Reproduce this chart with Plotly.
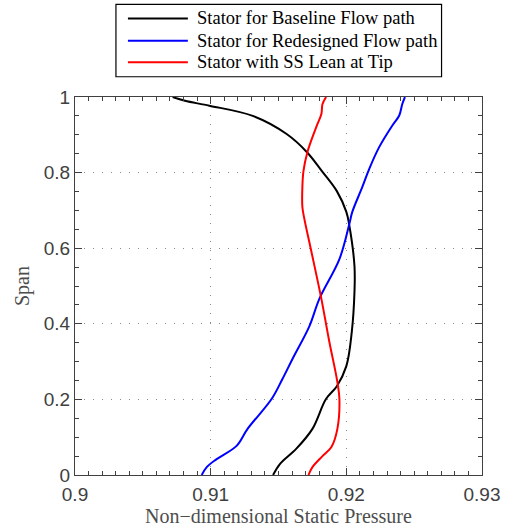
import plotly.graph_objects as go

# Spanwise static pressure distributions at stator exit
baseline_p = [0.9072, 0.9081, 0.9099, 0.9131, 0.9156, 0.9171, 0.9182, 0.9193, 0.9200, 0.9202,
              0.9206, 0.9206, 0.9204, 0.9200, 0.9193, 0.9185, 0.9175, 0.9163, 0.9151, 0.9146]
baseline_span = [1.000, 0.990, 0.977, 0.950, 0.902, 0.854, 0.804, 0.751, 0.696, 0.664,
                 0.553, 0.484, 0.378, 0.288, 0.235, 0.201, 0.122, 0.069, 0.029, 0.000]

redesign_p = [0.92432, 0.92412, 0.92390, 0.92338, 0.92243, 0.92169, 0.92118, 0.92044, 0.92022, 0.91949,
              0.91801, 0.91728, 0.91603, 0.91529, 0.91449, 0.91272, 0.91191, 0.91044, 0.90971, 0.90934]
redesign_span = [1.000, 0.981, 0.951, 0.924, 0.868, 0.810, 0.762, 0.696, 0.664, 0.571,
                 0.466, 0.394, 0.307, 0.254, 0.201, 0.122, 0.077, 0.042, 0.021, 0.000]

lean_p = [0.91851, 0.91824, 0.91816, 0.91779, 0.91713, 0.91684, 0.91676, 0.91676, 0.91691, 0.91743,
          0.91816, 0.91875, 0.91934, 0.91949, 0.91934, 0.91890, 0.91824, 0.91750, 0.91721]
lean_span = [1.000, 0.981, 0.955, 0.921, 0.854, 0.804, 0.762, 0.709, 0.677, 0.590,
             0.466, 0.352, 0.246, 0.201, 0.122, 0.074, 0.050, 0.021, 0.000]

series_names = ["Stator for Baseline Flow path",
                "Stator for Redesigned Flow path",
                "Stator with SS Lean at Tip"]
series_colors = ["#000000", "#0000ff", "#ff0000"]

W, H = 510, 530
M_L, M_R, M_T, M_B = 75, 27.5, 97, 54.5
PW, PH = W - M_L - M_R, H - M_T - M_B


def px_x(px):
    """Horizontal page pixel -> paper coordinate."""
    return (px - M_L) / PW


def px_y(py):
    """Vertical page pixel (from top) -> paper coordinate."""
    return (H - M_B - py) / PH


fig = go.Figure()
for name, color, xs, ys in zip(series_names, series_colors,
                               [baseline_p, redesign_p, lean_p],
                               [baseline_span, redesign_span, lean_span]):
    fig.add_trace(go.Scatter(x=xs, y=ys, mode="lines", name=name, showlegend=False,
                             line=dict(color=color, width=2, shape="spline", smoothing=1.0)))

serif = "Liberation Serif, Times New Roman, serif"
sans = "Liberation Sans, Arial, sans-serif"
ink = "#404040"

axis_common = dict(
    showline=True, linecolor=ink, linewidth=1.3, mirror="allticks",
    tickmode="linear", ticks="inside", ticklen=7, tickcolor=ink, tickwidth=1,
    showgrid=True, gridcolor="#8a8a8a", gridwidth=1, griddash="1px,8px",
    zeroline=False, automargin=False, tickformat="~g",
    tickfont=dict(family=sans, size=19, color=ink),
)

fig.update_xaxes(
    range=[0.9, 0.93], tick0=0.9, dtick=0.01, ticklabelstandoff=2,
    minor=dict(tick0=0.9, dtick=0.001, ticks="inside", ticklen=4, tickcolor=ink, tickwidth=1, showgrid=False),
    title=dict(text="Non\u2212dimensional Static Pressure", standoff=3,
               font=dict(family=serif, size=20, color="#4d4d4d")),
    **axis_common,
)
fig.update_yaxes(
    range=[0, 1], tick0=0, dtick=0.2,
    minor=dict(tick0=0, dtick=0.05, ticks="inside", ticklen=4, tickcolor=ink, tickwidth=1, showgrid=False),
    title=dict(text="Span", standoff=8,
               font=dict(family=serif, size=20, color="#4d4d4d")),
    **axis_common,
)

# Boxed legend above the plot area
shapes = [dict(type="rect", xref="paper", yref="paper",
               x0=px_x(116), x1=px_x(442), y0=px_y(76.7), y1=px_y(4.3),
               line=dict(color="#000000", width=1.2), fillcolor="white", layer="above")]
annotations = []
row_y = [18.3, 40.7, 62.3]
for name, color, ry in zip(series_names, series_colors, row_y):
    shapes.append(dict(type="line", xref="paper", yref="paper",
                       x0=px_x(128), x1=px_x(188), y0=px_y(ry), y1=px_y(ry),
                       line=dict(color=color, width=2)))
    annotations.append(dict(text=name, xref="paper", yref="paper",
                            x=px_x(195), y=px_y(ry), xanchor="left", yanchor="middle",
                            showarrow=False,
                            font=dict(family=serif, size=18.5, color="#000000")))

fig.update_layout(
    width=W, height=H,
    margin=dict(l=M_L, r=M_R, t=M_T, b=M_B),
    paper_bgcolor="white", plot_bgcolor="white",
    showlegend=False,
    shapes=shapes, annotations=annotations,
)

fig.write_html("out.html")
